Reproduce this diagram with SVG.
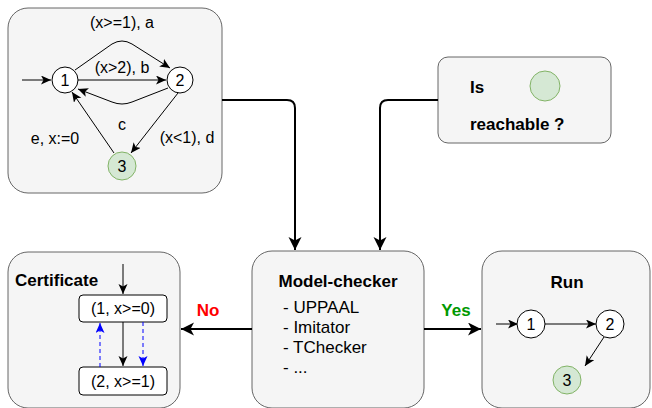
<svg xmlns="http://www.w3.org/2000/svg" width="652" height="408" viewBox="0 0 652 408">
<style>
.box{fill:#f5f5f5;stroke:#666666;stroke-width:1}
.st{fill:#ffffff;stroke:#000000;stroke-width:1}
.gst{fill:#d5e8d4;stroke:#82b366;stroke-width:1}
.t{font-family:"Liberation Sans",Arial,sans-serif;font-size:16px;fill:#000}
.l{font-family:"Liberation Sans",Arial,sans-serif;font-size:17px;fill:#000}
.b{font-family:"Liberation Sans",Arial,sans-serif;font-size:17px;font-weight:bold;fill:#000}
.m{text-anchor:middle}
.e{fill:none;stroke:#000;stroke-width:1}
.E{fill:none;stroke:#000;stroke-width:2}
.d{fill:none;stroke:#0000ff;stroke-width:1;stroke-dasharray:4 3}
</style>
<defs>
<marker id="sa" markerUnits="userSpaceOnUse" markerWidth="12" markerHeight="10" refX="10" refY="4.5" orient="auto">
<path d="M0,0 L10,4.5 L0,9 L2.5,4.5 Z" fill="#000"/>
</marker>
<marker id="ba" markerUnits="userSpaceOnUse" markerWidth="16" markerHeight="14" refX="13" refY="6.5" orient="auto">
<path d="M0,0 L13,6.5 L0,13 L3.5,6.5 Z" fill="#000"/>
</marker>
<marker id="bl" markerUnits="userSpaceOnUse" markerWidth="12" markerHeight="10" refX="10" refY="4.5" orient="auto">
<path d="M0,0 L10,4.5 L0,9 L2.5,4.5 Z" fill="#0000ff"/>
</marker>
</defs>

<g id="automaton">
<rect class="box" x="8" y="8" width="214" height="185" rx="20"/>
<path class="e" d="M22,80 L51,80" marker-end="url(#sa)"/>
<path class="e" d="M75,70 L112,44 Q122,38 132,44 L170,68" marker-end="url(#sa)"/>
<path class="e" d="M78,80 L166,80" marker-end="url(#sa)"/>
<path class="e" d="M168,88 L132,102 Q122,106 112,102 L78,89" marker-end="url(#sa)"/>
<path class="e" d="M178,93 L131,153" marker-end="url(#sa)"/>
<path class="e" d="M114,153 L72,92" marker-end="url(#sa)"/>
<circle class="st" cx="65" cy="80" r="13"/>
<circle class="st" cx="180" cy="80" r="13"/>
<circle class="gst" cx="122" cy="166" r="14"/>
<text class="t m" x="65" y="86">1</text>
<text class="t m" x="180" y="86">2</text>
<text class="t m" x="122" y="172">3</text>
<text class="t m" x="122" y="28">(x&gt;=1), a</text>
<text class="t m" x="122" y="73">(x&gt;2), b</text>
<text class="t m" x="122" y="130">c</text>
<text class="t m" x="187" y="143">(x&lt;1), d</text>
<text class="t m" x="55" y="144">e, x:=0</text>
</g>

<g id="query">
<rect class="box" x="438" y="57" width="173" height="86" rx="10"/>
<text class="b" x="470" y="93">Is</text>
<circle class="gst" cx="545" cy="86" r="15"/>
<text class="b" x="470" y="130">reachable ?</text>
</g>

<g id="modelchecker">
<rect class="box" x="252" y="251" width="172" height="157" rx="20"/>
<text class="b m" x="338" y="287">Model-checker</text>
<text class="l" x="283" y="313">- UPPAAL</text>
<text class="l" x="283" y="333">- Imitator</text>
<text class="l" x="283" y="353">- TChecker</text>
<text class="l" x="283" y="373">- ...</text>
</g>

<g id="certificate">
<rect class="box" x="8" y="252" width="172" height="156" rx="20"/>
<text class="b" x="15" y="286">Certificate</text>
<rect class="st" x="79" y="295" width="88" height="27" rx="4"/>
<rect class="st" x="79" y="367" width="88" height="28" rx="4"/>
<text class="t m" x="123" y="314">(1, x&gt;=0)</text>
<text class="t m" x="123" y="387">(2, x&gt;=1)</text>
<path class="e" d="M123,264 L123,294" marker-end="url(#sa)"/>
<path class="e" d="M123,322 L123,366" marker-end="url(#sa)"/>
<path class="d" d="M100,367 L100,323" marker-end="url(#bl)"/>
<path class="d" d="M143,322 L143,366" marker-end="url(#bl)"/>
</g>

<g id="run">
<rect class="box" x="482" y="251" width="168" height="157" rx="20"/>
<text class="b m" x="567" y="288">Run</text>
<path class="e" d="M496,324 L518,324" marker-end="url(#sa)"/>
<path class="e" d="M545,324 L596,324" marker-end="url(#sa)"/>
<path class="e" d="M604,337 L585,366" marker-end="url(#sa)"/>
<circle class="st" cx="531" cy="324" r="14"/>
<circle class="st" cx="610" cy="324" r="14"/>
<circle class="gst" cx="567" cy="380" r="14"/>
<text class="t m" x="531" y="330">1</text>
<text class="t m" x="610" y="330">2</text>
<text class="t m" x="567" y="386">3</text>
</g>

<g id="connectors">
<path class="E" d="M222,100 L287,100 Q295,100 295,108 L295,250" marker-end="url(#ba)"/>
<path class="E" d="M438,100 L388,100 Q380,100 380,108 L380,250" marker-end="url(#ba)"/>
<path class="E" d="M424,329 L481,329" marker-end="url(#ba)"/>
<path class="E" d="M252,329 L181,329" marker-end="url(#ba)"/>
<text class="b m" x="456" y="316" style="fill:#009900">Yes</text>
<text class="b m" x="208" y="316" style="fill:#ff0000">No</text>
</g>
</svg>
